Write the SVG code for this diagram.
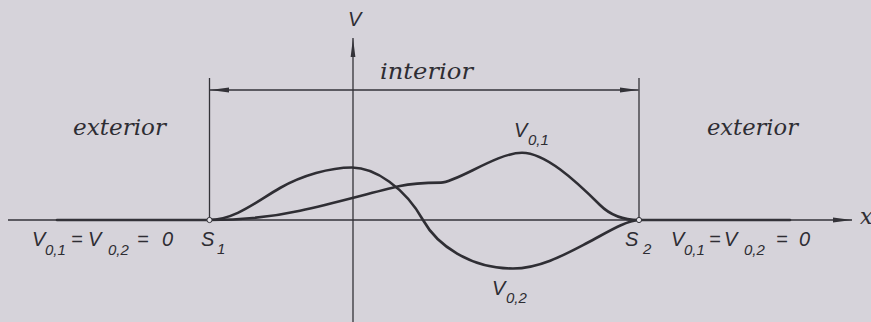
<svg xmlns="http://www.w3.org/2000/svg" width="871" height="322" viewBox="0 0 871 322">
<style>
.ln{stroke:#333238;stroke-width:1.3;fill:none}
.thick{stroke:#333238;stroke-width:2.6;fill:none;stroke-linecap:round}
.crv{stroke:#2f2e34;stroke-width:2.6;fill:none;stroke-linecap:round}
.word{font-family:"DejaVu Serif",serif;font-style:italic;font-size:22px;fill:#2e2d33}
.sym{font-family:"Liberation Sans",Arial,sans-serif;font-style:italic;font-size:20px;fill:#2e2d33}
.sub{font-family:"Liberation Sans",Arial,sans-serif;font-style:italic;font-size:15px;fill:#2e2d33}
.pt{fill:#e4e2e8;stroke:#333238;stroke-width:1}
</style>
<defs>
<marker id="arr" markerUnits="userSpaceOnUse" markerWidth="20" markerHeight="8" refX="19" refY="4" orient="auto">
<path d="M0,1.6 L19,4 L0,6.4 Z" fill="#333238"/>
</marker>
<marker id="arrS" markerUnits="userSpaceOnUse" markerWidth="20" markerHeight="8" refX="19" refY="4" orient="auto-start-reverse">
<path d="M0,1.5 L19,4 L0,6.5 Z" fill="#333238"/>
</marker>
</defs>
<rect width="871" height="322" fill="#d6d3da"/>

<g id="axes">
<line class="ln" x1="8" y1="220" x2="852" y2="220" marker-end="url(#arr)"/>
<line class="ln" x1="353" y1="322" x2="353" y2="38" marker-end="url(#arr)"/>
<line class="thick" x1="57" y1="220" x2="209" y2="220"/>
<line class="thick" x1="639" y1="220" x2="790" y2="220"/>
</g>

<g id="boundaries">
<line class="ln" x1="209.5" y1="78" x2="209.5" y2="220" stroke-width="1.2"/>
<line class="ln" x1="639" y1="78" x2="639" y2="220" stroke-width="1.2"/>
<line class="ln" x1="210" y1="90" x2="638.5" y2="90" marker-start="url(#arrS)" marker-end="url(#arrS)"/>
</g>

<g id="curves">
<path id="V02" class="crv" d="M209,220 C235,220 258,200.5 280,188 C302,175.5 330,167.5 352,167.5 C375,167.5 405,188 423,220 C437,245 470,268.5 513,268.5 C540,268.5 566,254 587,243 C608,232 625,221 639,220"/>
<path id="V01" class="crv" d="M209,220 C240,220 270,217.3 300,210.7 C335,203 370,193 400,186 C413,183.2 428,182.8 441,182.6 C457,182.3 497,152.7 522,152.7 C545,152.7 575,180 600,205 C612,217 625,220 639,220"/>
</g>

<g id="points">
<circle class="pt" cx="209.5" cy="220" r="2.6"/>
<circle class="pt" cx="639" cy="220" r="2.6"/>
</g>

<g id="labels">
<text class="word" x="380" y="79" textLength="93" lengthAdjust="spacingAndGlyphs">interior</text>
<text class="word" x="73" y="135" textLength="93" lengthAdjust="spacingAndGlyphs">exterior</text>
<text class="word" x="707" y="135" textLength="91" lengthAdjust="spacingAndGlyphs">exterior</text>
<text class="sym" x="348" y="26" font-size="18">V</text>
<text class="word" x="860" y="224">x</text>

<text class="sym" x="514" y="137">V</text><text class="sub" x="528" y="145">0,1</text>
<text class="sym" x="492" y="295">V</text><text class="sub" x="506" y="303">0,2</text>

<text class="sym" x="32" y="246">V</text><text class="sub" x="45" y="255">0,1</text>
<text class="sym" x="71" y="246">=</text>
<text class="sym" x="88" y="246">V</text><text class="sub" x="108" y="255">0,2</text>
<text class="sym" x="137" y="246">=</text>
<text class="sym" x="162" y="246">0</text>

<text class="sym" x="201" y="246">S</text><text class="sub" x="217" y="254">1</text>
<text class="sym" x="625" y="246">S</text><text class="sub" x="643" y="254">2</text>

<text class="sym" x="671" y="246">V</text><text class="sub" x="684" y="255">0,1</text>
<text class="sym" x="709" y="246">=</text>
<text class="sym" x="724" y="246">V</text><text class="sub" x="744" y="255">0,2</text>
<text class="sym" x="776" y="246">=</text>
<text class="sym" x="799" y="246">0</text>
</g>
</svg>
